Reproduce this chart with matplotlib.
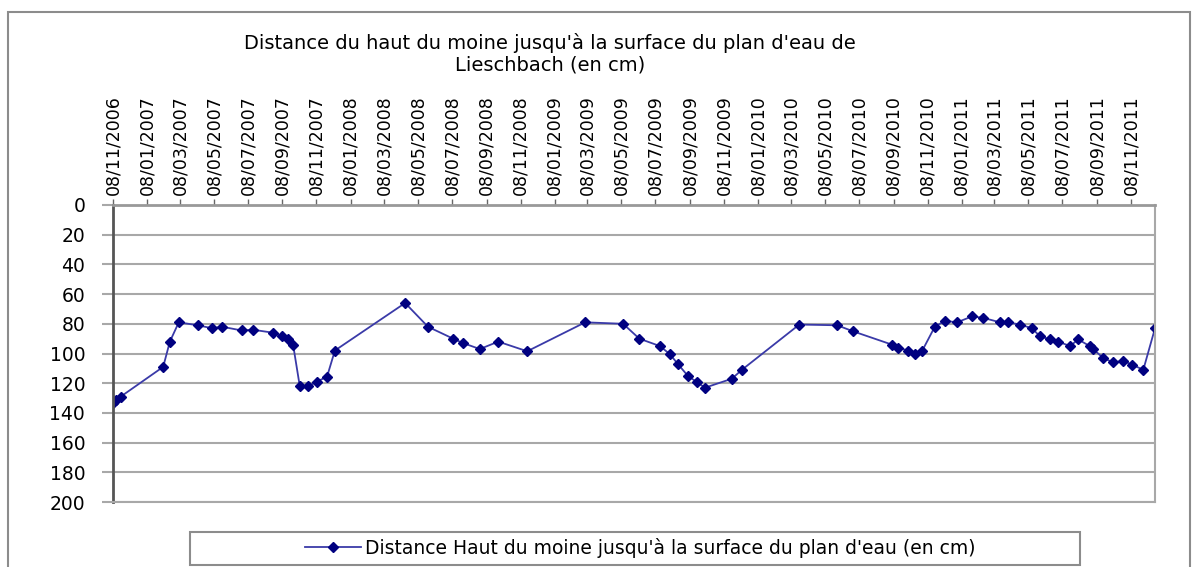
import numpy as np
import pandas as pd
import matplotlib.pyplot as plt
import matplotlib.dates as mdates
from matplotlib.patches import Rectangle

# Données relevées (date, distance en cm)
dates = ['08/11/2006', '13/11/2006', '22/11/2006', '06/02/2007', '18/02/2007',
         '06/03/2007', '09/04/2007', '05/05/2007', '23/05/2007', '27/06/2007',
         '17/07/2007', '22/08/2007', '07/09/2007', '18/09/2007', '27/09/2007',
         '09/10/2007', '24/10/2007', '09/11/2007', '27/11/2007', '11/12/2007',
         '15/04/2008', '26/05/2008', '10/07/2008', '28/07/2008', '27/08/2008',
         '29/09/2008', '20/11/2008', '04/03/2009', '11/05/2009', '09/06/2009',
         '16/07/2009', '03/08/2009', '17/08/2009', '04/09/2009', '21/09/2009',
         '05/10/2009', '22/11/2009', '10/12/2009', '23/03/2010', '30/05/2010',
         '27/06/2010', '05/09/2010', '16/09/2010', '04/10/2010', '17/10/2010',
         '29/10/2010', '21/11/2010', '09/12/2010', '31/12/2010', '27/01/2011',
         '16/02/2011', '18/03/2011', '01/04/2011', '23/04/2011', '14/05/2011',
         '29/05/2011', '16/06/2011', '30/06/2011', '22/07/2011', '05/08/2011',
         '26/08/2011', '01/09/2011', '19/09/2011', '07/10/2011', '25/10/2011',
         '10/11/2011', '30/11/2011', '21/12/2011']
distances = [133, 131, 129, 109, 92,
             79, 81, 83, 82, 84.5,
             84, 86, 88.5, 90.5, 94,
             122, 122, 119, 115.5, 98,
             66, 82, 90, 93, 97,
             92, 98.5, 79, 80, 90,
             95, 100.5, 107, 115, 119.5,
             123, 117, 111, 80.5, 81,
             85, 94, 96, 98, 100.5,
             98.5, 82, 78, 79, 75,
             76, 79, 79, 80.5, 83,
             88.5, 90.5, 92, 95, 90.5,
             95, 97, 103, 106, 105,
             107.5, 111, 83]

tick_labels = ['08/11/2006', '08/01/2007', '08/03/2007', '08/05/2007', '08/07/2007',
               '08/09/2007', '08/11/2007', '08/01/2008', '08/03/2008', '08/05/2008',
               '08/07/2008', '08/09/2008', '08/11/2008', '08/01/2009', '08/03/2009',
               '08/05/2009', '08/07/2009', '08/09/2009', '08/11/2009', '08/01/2010',
               '08/03/2010', '08/05/2010', '08/07/2010', '08/09/2010', '08/11/2010',
               '08/01/2011', '08/03/2011', '08/05/2011', '08/07/2011', '08/09/2011',
               '08/11/2011']
y_ticks = list(range(0, 201, 20))

titre = "Distance du haut du moine jusqu'à la surface du plan d'eau de\nLieschbach (en cm)"
legende = "Distance Haut du moine jusqu'à la surface du plan d'eau (en cm)"

x = pd.to_datetime(dates, dayfirst=True)
xt = pd.to_datetime(tick_labels, dayfirst=True)

plt.rcParams['font.family'] = ['DejaVu Sans']

fig = plt.figure(figsize=(11.96, 5.67), dpi=100)
W, H = 1196, 567

# cadre extérieur (style Excel)
fig.patches.append(Rectangle((8 / W, -0.02), (1190 - 8) / W, 1.02 - 12 / H,
                             transform=fig.transFigure, fill=False,
                             edgecolor='#8c8c8c', lw=1.5))

ax = fig.add_axes([113 / W, 65 / H, (1155 - 113) / W, (502 - 205) / H])

ax.plot(x, distances, color='#3a3aa8', lw=1.3, marker='D', markersize=5.5,
        markerfacecolor='#000080', markeredgecolor='#000080', label=legende)

ax.set_ylim(200, 0)
ax.set_yticks(y_ticks)
ax.set_xlim(xt[0], pd.Timestamp('2011-12-21'))
ax.set_xticks(xt)
ax.set_xticklabels(tick_labels, rotation=90, fontsize=12.5)
ax.xaxis.tick_top()

ax.grid(axis='y', color='#a8a8a8', lw=1.5)
ax.set_axisbelow(True)
ax.tick_params(axis='y', length=8, width=1.5, color='#a8a8a8', labelsize=13.5, pad=12)
ax.tick_params(axis='x', length=4, width=1, color='#666666', pad=3)

ax.spines['left'].set_color('#555555')
ax.spines['left'].set_linewidth(2)
ax.spines['top'].set_color('#999999')
ax.spines['top'].set_linewidth(2)
ax.spines['right'].set_color('#a8a8a8')
ax.spines['right'].set_linewidth(1.5)
ax.spines['bottom'].set_color('#a8a8a8')
ax.spines['bottom'].set_linewidth(1.5)

fig.text(550 / W, 1 - 54 / H, titre, ha='center', va='center', fontsize=14,
         linespacing=1.15)

# légende en bas
fig.patches.append(Rectangle((190 / W, 2 / H), (1080 - 190) / W, (565 - 532) / H,
                             transform=fig.transFigure, fill=False,
                             edgecolor='#8c8c8c', lw=1.5))
fig.legend(loc='center', bbox_to_anchor=(640 / W, 1 - 548 / H), frameon=False,
           fontsize=13.5, handlelength=3, handletextpad=0.2)

fig.savefig('out.png', dpi=100)
